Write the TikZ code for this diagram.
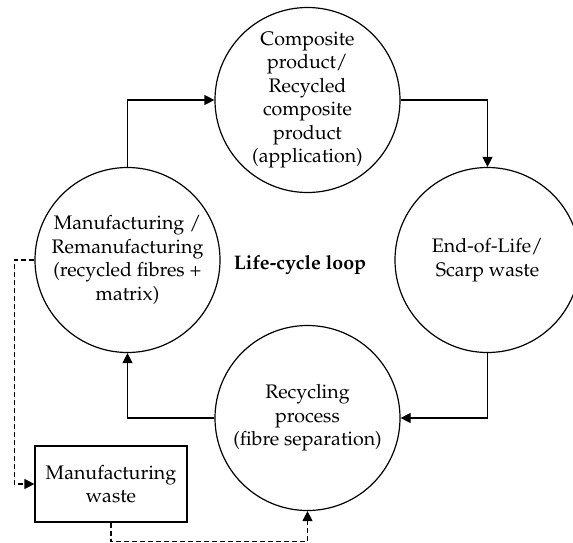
\documentclass[tikz,border=0pt]{standalone}
\usepackage[T1]{fontenc}
\usepackage{mathpazo}
\usetikzlibrary{positioning,arrows.meta}

\tikzstyle{stagenode} = [circle, draw = black, line width = 0.6pt, minimum size = 92.5pt, inner sep = 0pt, align = center, font = \fontsize{9.8}{11.7}\selectfont]
\tikzstyle{wastenode} = [rectangle, draw = black, line width = 0.6pt, minimum width = 76pt, minimum height = 38pt, align = center, font = \fontsize{9.8}{11.7}\selectfont]
\tikzstyle{flow} = [-{Triangle[length = 5pt, width = 5pt]}, line width = 0.6pt]
\tikzstyle{scrap} = [flow, dash pattern = on 2.5pt off 1.5pt]

\begin{document}
\begin{tikzpicture}[node distance = 80pt and 90pt, on grid]
			\useasboundingbox (0,0) rectangle (286.5pt,-271pt);
			\node[stagenode] (product) at (153.75pt,-50pt) {Composite\\product/\\Recycled\\composite\\product\\(application)};
			\node[stagenode, below left = of product] (manuf) {Manufacturing /\\Remanufacturing\\(recycled fibres +\\matrix)};
			\node[stagenode, below right = of product] (eol) {End-of-Life/\\Scarp waste};
			\node[stagenode, below = 159pt of product] (recyc) {Recycling\\process\\(fibre separation)};
			\node[wastenode, below left = 112pt and 8.25pt of manuf] (waste) {Manufacturing\\waste};
			\node[font = \fontsize{9.8}{11.7}\selectfont\bfseries] (loop) at (150pt,-132.5pt) {Life-cycle loop};
			%%%%%%%%%%%%%%%%%%%%%%%%%%%%%%%%%%%%%%%%%%%%%
			% main loop, clockwise
			%%%%%%%%%%%%%%%%%%%%%%%%%%%%%%%%%%%%%%%%%%%%%
			\draw[flow] (manuf.north) |- (product.west);
			\draw[flow] (product.east) -| (eol.north);
			\draw[flow] (eol.south) |- (recyc.east);
			\draw[flow] (recyc.west) -| (manuf.south);
			% side branch for production scrap
			\draw[scrap] (manuf.west) -- ++(-10pt,0) |- (waste.west);
			\draw[scrap] (waste.south) -- ++(0,-9.5pt) -| (recyc.south);
		\end{tikzpicture}
\end{document}
